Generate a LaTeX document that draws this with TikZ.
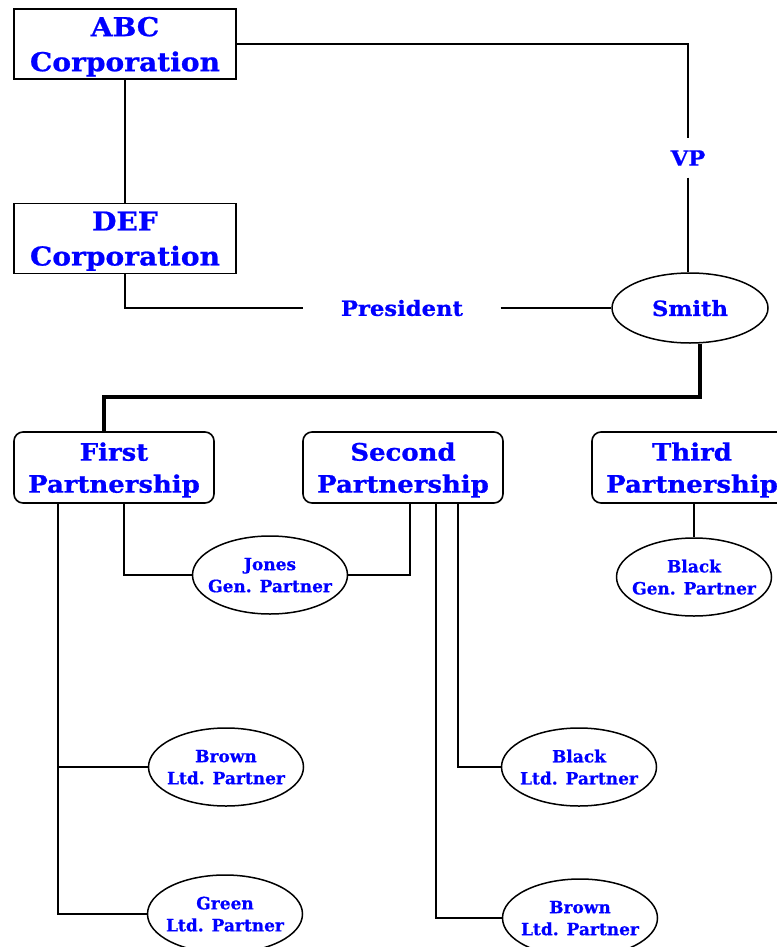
\documentclass[tikz,border=0pt]{standalone}
\usepackage{fontspec}
\usetikzlibrary{shapes.geometric}
\newfontfamily\widefont[FakeStretch=1.08, FakeBold=0.8]{DejaVu Serif}
\newfontfamily\narrowfont[FakeBold=0.6]{DejaVu Serif}
\definecolor{txtblue}{RGB}{0,0,255}
\tikzset{
  corpbox/.style={draw, line width=1.6pt, rectangle, minimum width=222pt, minimum height=70pt,
    inner sep=0pt, align=center, text=txtblue, text depth=0pt,
    font=\widefont\bfseries\fontsize{26}{35}\selectfont},
  partbox/.style={draw, line width=1.6pt, rectangle, rounded corners=9pt, minimum width=200pt,
    minimum height=71pt, inner sep=0pt, align=center, text=txtblue, text depth=0pt,
    font=\widefont\bfseries\fontsize{24}{32}\selectfont},
  person/.style={draw, line width=1.5pt, ellipse, minimum width=155pt, minimum height=78pt,
    inner sep=-25pt, align=center, text=txtblue, text depth=0pt,
    font=\narrowfont\bfseries\fontsize{17}{22}\selectfont},
  boss/.style={person, minimum width=156pt, minimum height=70pt,
    font=\widefont\bfseries\fontsize{21}{26}\selectfont},
  role/.style={inner sep=0pt, text=txtblue, font=\widefont\bfseries\fontsize{21}{26}\selectfont},
  link/.style={line width=1.6pt},
  trunk/.style={line width=3.5pt}
}
\begin{document}
\begin{tikzpicture}[x=1pt, y=-1pt]
\useasboundingbox (0,0) rectangle (776,947);

% corporations and their officer
\node[corpbox] (ABC) at (125,44) {ABC\\Corporation};
\node[corpbox] (DEF) at (125,238.5) {DEF\\Corporation};
\node[boss] (Smith) at (690,308) {Smith};
\node[role, minimum height=39pt] (VP) at (688,158) {VP};
\node[role, minimum width=197pt] (Pres) at (402,308) {President};

% partnerships
\node[partbox] (First) at (114,467.5) {First\\Partnership};
\node[partbox] (Second) at (403,467.5) {Second\\Partnership};
\node[partbox] (Third) at (692,467.5) {Third\\Partnership};

% partners
\node[person] (Jones) at (270,575) {Jones\\Gen. Partner};
\node[person] (BlackG) at (694,577) {Black\\Gen. Partner};
\node[person] (BrownL) at (226,767) {Brown\\Ltd. Partner};
\node[person] (BlackL) at (579,767) {Black\\Ltd. Partner};
\node[person] (Green) at (225,914) {Green\\Ltd. Partner};
\node[person] (BrownT) at (580,918) {Brown\\Ltd. Partner};

% corporate links
\draw[link] (ABC.south) -- (DEF.north);
\draw[link] (ABC.east) -| (VP.north);
\draw[link] (VP.south) -- (VP.south |- Smith.north);
\draw[link] (DEF.south) |- (Pres.west);
\draw[link] (Pres.east) -- (Smith.west);

% Smith to the first partnership
\draw[trunk] ([xshift=10pt]Smith.south) -- ++(0,53) -| ([xshift=-10pt]First.north);

% partnership taps
\coordinate (fl) at ([xshift=-56pt]First.south);
\coordinate (fr) at ([xshift=10pt]First.south);
\coordinate (sj) at ([xshift=7pt]Second.south);
\coordinate (s1) at ([xshift=33pt]Second.south);
\coordinate (s2) at ([xshift=55pt]Second.south);

\draw[link] (fl) |- (Green.west);
\draw[link] (fl |- BrownL.west) -- (BrownL.west);
\draw[link] (fr) |- (Jones.west);
\draw[link] (Jones.east) -| (sj);
\draw[link] (s2) |- (BlackL.west);
\draw[link] (s1) |- (BrownT.west);
\draw[link] (BlackG.north |- Third.south) -- (BlackG.north);
\end{tikzpicture}
\end{document}
